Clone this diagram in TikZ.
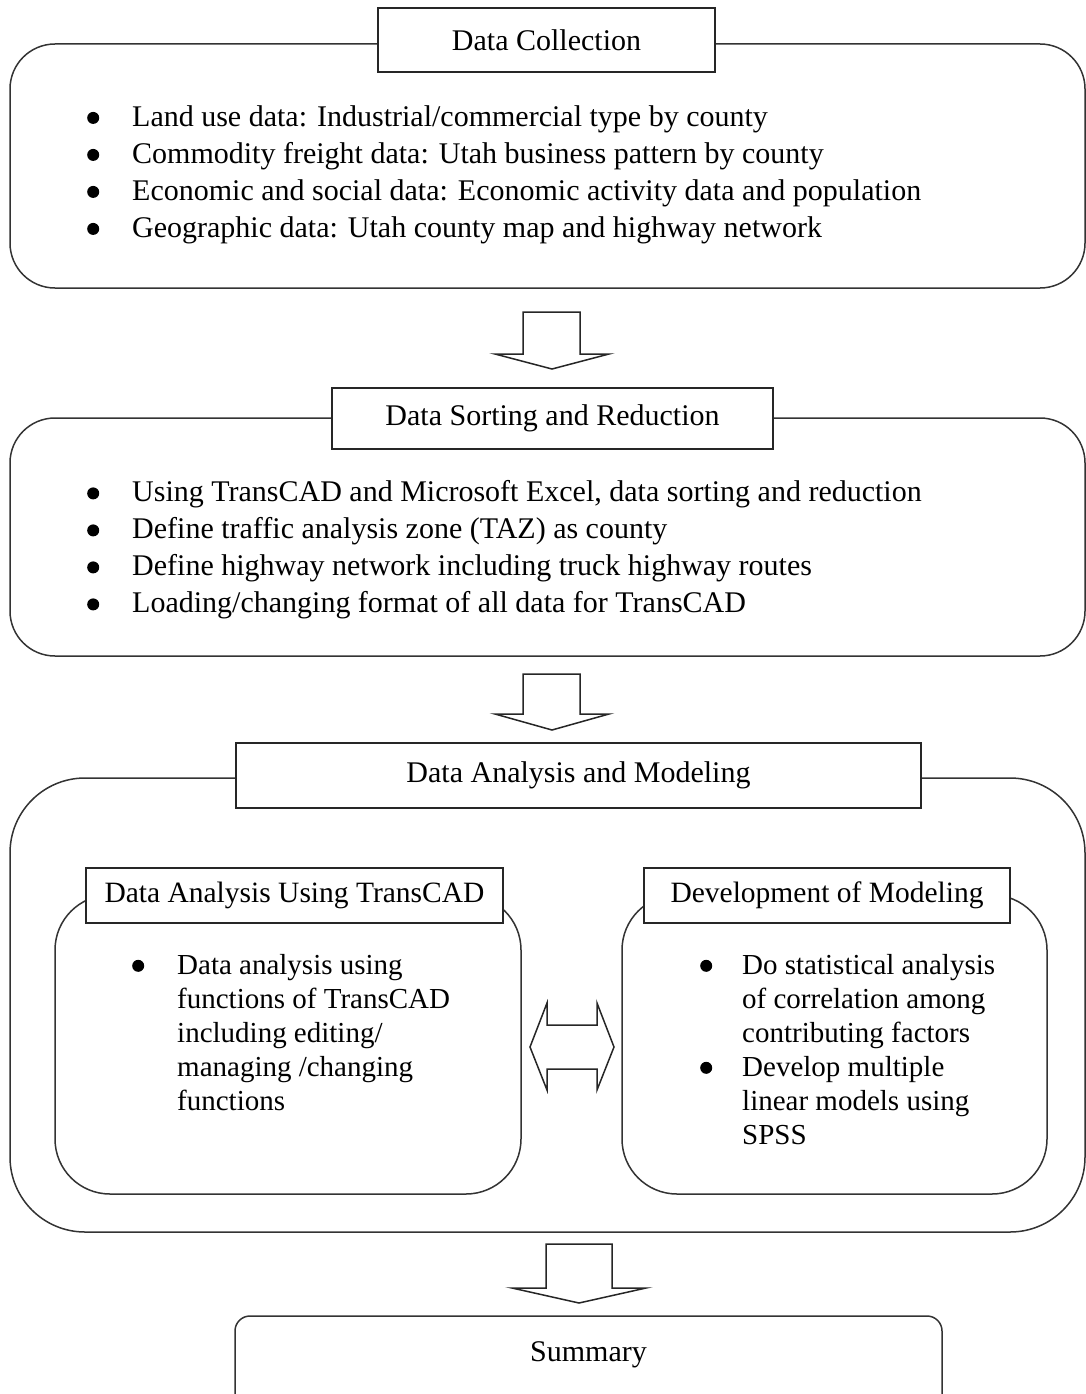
\documentclass[tikz,border=0pt]{standalone}
\usepackage{fontspec}
\usepackage{tikz}
\usepackage{xcolor}
\setmainfont{Liberation Serif}

\newcommand{\bigbul}{\raisebox{2.5pt}{\tikz\fill[black] (0,0) circle (6pt);}}

\begin{document}
\begin{tikzpicture}[x=1pt, y=-1pt,
            outerbox/.style={rectangle, draw=black!80, line width=1.5pt, rounded corners=45pt},
            innerbox/.style={rectangle, draw=black!80, line width=1.5pt, rounded corners=55pt},
            titlebox/.style={rectangle, draw=black!85, line width=1.8pt, fill=white, inner sep=0pt, font=\fontsize{30}{34}\selectfont},
            subtitlebox/.style={titlebox, font=\fontsize{29.5}{34}\selectfont},
            biglist/.style={anchor=west, inner sep=0pt, font=\fontsize{30}{37}\selectfont},
            smalllist/.style={anchor=west, inner sep=0pt, font=\fontsize{29}{34}\selectfont},
            blockarrow/.style={draw=black!85, line width=1.5pt, fill=white, line join=miter}
        ]
            \useasboundingbox (0,0) rectangle (1086,1394);

            % Data collection block
            \node[outerbox, minimum width=1075pt, minimum height=244pt] (collect) at (547.5,166) {};
            \node[titlebox, minimum width=337pt, minimum height=64pt] (collecttitle) at (546.5,40) {Data Collection};
            \node[biglist] (collectlist) at (87,174.5) {\begin{tabular}{@{}p{45pt}@{}l@{}}
                \bigbul & Land use data: Industrial/commercial type by county\\
                \bigbul & Commodity freight data: Utah business pattern by county\\
                \bigbul & Economic and social data: Economic activity data and population\\
                \bigbul & Geographic data: Utah county map and highway network
            \end{tabular}};

            % Data sorting block
            \node[outerbox, minimum width=1075pt, minimum height=238pt] (sort) at (547.5,537) {};
            \node[titlebox, minimum width=441pt, minimum height=61pt] (sorttitle) at (552.5,418.5) {Data Sorting and Reduction};
            \node[biglist] (sortlist) at (87,550) {\begin{tabular}{@{}p{45pt}@{}l@{}}
                \bigbul & Using TransCAD and Microsoft Excel, data sorting and reduction\\
                \bigbul & Define traffic analysis zone (TAZ) as county\\
                \bigbul & Define highway network including truck highway routes\\
                \bigbul & Loading/changing format of all data for TransCAD
            \end{tabular}};

            % Analysis and modeling block
            \node[outerbox, rounded corners=75pt, minimum width=1075pt, minimum height=454pt] (analysis) at (547.5,1005) {};
            \node[titlebox, minimum width=685pt, minimum height=65pt] (analysistitle) at (578.5,775.5) {Data Analysis and Modeling};

            % TransCAD sub block
            \node[innerbox, minimum width=466pt, minimum height=299pt] (transcad) at (288,1044.5) {};
            \node[subtitlebox, minimum width=417pt, minimum height=55pt] (transcadtitle) at (294.5,895.5) {Data Analysis Using TransCAD};
            \node[smalllist] (transcadlist) at (132,1035.5) {\begin{tabular}{@{}p{45pt}@{}l@{}}
                \bigbul & Data analysis using\\
                & functions of TransCAD\\
                & including editing/\\
                & managing /changing\\
                & functions
            \end{tabular}};

            % Modeling sub block
            \node[innerbox, minimum width=425pt, minimum height=299pt] (model) at (834.5,1044.5) {};
            \node[subtitlebox, minimum width=366pt, minimum height=55pt] (modeltitle) at (827,895.5) {Development of Modeling};
            \node[smalllist] (modellist) at (700,1052.5) {\begin{tabular}{@{}p{42pt}@{}l@{}}
                \bigbul & Do statistical analysis\\
                & of correlation among\\
                & contributing factors\\
                \bigbul & Develop multiple\\
                & linear models using\\
                & SPSS
            \end{tabular}};

            % Summary block (cut at the bottom)
            \node[outerbox, rounded corners=15pt, minimum width=707pt, minimum height=110pt] (summary) at (588.5,1371) {};
            \node[font=\fontsize{30}{34}\selectfont] (summarytext) at (588.5,1355) {Summary};

            % Block arrows
            \draw[blockarrow] (523,312) -- (580,312) -- (580,354) -- (609,354) -- (552,369) -- (495,354) -- (523,354) -- cycle;
            \draw[blockarrow] (523,674) -- (580,674) -- (580,714) -- (609,714) -- (552,730) -- (495,714) -- (523,714) -- cycle;
            \draw[blockarrow] (546,1244) -- (612,1244) -- (612,1288) -- (646,1288) -- (579,1303) -- (512,1288) -- (546,1288) -- cycle;
            \draw[blockarrow] (530,1047) -- (547,1003) -- (547,1025) -- (597,1025) -- (597,1003) -- (614,1047) -- (597,1090) -- (597,1069) -- (547,1069) -- (547,1090) -- cycle;

        \end{tikzpicture}
\end{document}
